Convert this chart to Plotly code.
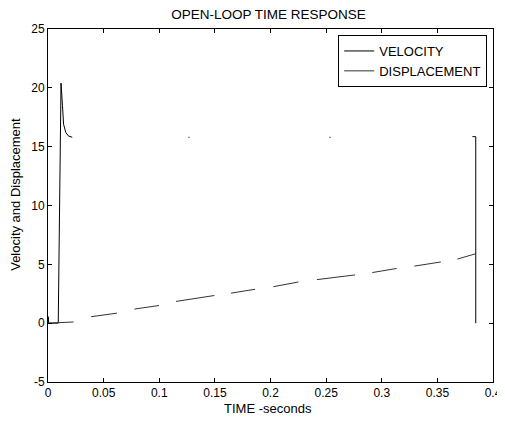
import plotly.graph_objects as go

# Velocity (gaps reproduce the drawn segments in the reference)
vel_t = [0.0, 0.0002, 0.0006, 0.0092, 0.0117, 0.0130, 0.0140, 0.0160, 0.0185, 0.0218, None,
         0.1262, 0.1272, None, 0.2530, 0.2540, None, 0.3815, 0.3845, 0.3845]
vel_v = [0.0, 0.55, 0.0, 0.0, 20.4, 18.5, 16.9, 16.2, 15.9, 15.8, None,
         15.8, 15.8, None, 15.8, 15.8, None, 15.85, 15.85, 0.0]

# Displacement (visible dash segments)
disp_t = [0.0, 0.0230, None, 0.0388, 0.0620, None, 0.0777, 0.0998, None, 0.1151, 0.1495, None,
          0.1645, 0.1861, None, 0.2026, 0.2251, None, 0.2417, 0.2760, None, 0.2915, 0.3134, None,
          0.3293, 0.3531, None, 0.3680, 0.3845]
disp_v = [0.0, 0.10, None, 0.55, 0.85, None, 1.20, 1.50, None, 1.85, 2.35, None,
          2.55, 2.88, None, 3.10, 3.50, None, 3.70, 4.10, None, 4.30, 4.65, None,
          4.85, 5.20, None, 5.45, 5.90]

x_ticks = [0, 0.05, 0.1, 0.15, 0.2, 0.25, 0.3, 0.35, 0.4]
x_labels = ["0", "0.05", "0.1", "0.15", "0.2", "0.25", "0.3", "0.35", "0.4"]
y_ticks = [-5, 0, 5, 10, 15, 20, 25]
y_labels = ["-5", "0", "5", "10", "15", "20", "25"]

FONT = "Liberation Sans, Arial, sans-serif"

fig = go.Figure()
fig.add_trace(go.Scatter(x=vel_t, y=vel_v, mode="lines", name="VELOCITY",
                         line=dict(color="black", width=1), connectgaps=False))
fig.add_trace(go.Scatter(x=disp_t, y=disp_v, mode="lines", name="DISPLACEMENT",
                         line=dict(color="#333333", width=1), connectgaps=False))

axis_common = dict(showgrid=False, zeroline=False, showline=True, linecolor="black",
                   linewidth=1, mirror="ticks", ticks="inside", ticklen=4, tickcolor="black",
                   automargin=False,
                   tickfont=dict(family=FONT, size=12, color="black"))

# page body has an 8px margin; keep the figure inside the window (no scrollbars)
fig.update_layout(
    width=497, height=407,
    margin=dict(l=40, r=12, t=21, b=33),
    paper_bgcolor="white", plot_bgcolor="white",
    font=dict(family=FONT, size=12, color="black"),
    title=dict(text="OPEN-LOOP TIME RESPONSE", x=0.524, xanchor="center",
               y=0.985, yanchor="middle", font=dict(family=FONT, size=13.5)),
    xaxis=dict(range=[0, 0.4], tickvals=x_ticks, ticktext=x_labels, **axis_common),
    yaxis=dict(range=[-5, 25], tickvals=y_ticks, ticktext=y_labels, **axis_common),
    legend=dict(x=0.987, xanchor="right", y=0.983, yanchor="top",
                bgcolor="white", bordercolor="black", borderwidth=1,
                font=dict(family=FONT, size=13), tracegroupgap=0,
                itemwidth=30),
    showlegend=True,
    annotations=[
        dict(text="TIME -seconds", xref="paper", yref="paper", x=0.494, y=-0.076,
             xanchor="center", yanchor="middle", showarrow=False,
             font=dict(family=FONT, size=13)),
        dict(text="Velocity and Displacement", xref="paper", yref="paper", x=-0.072, y=0.533,
             xanchor="center", yanchor="middle", showarrow=False, textangle=-90,
             font=dict(family=FONT, size=13)),
    ],
)

fig.write_html("out.html")
